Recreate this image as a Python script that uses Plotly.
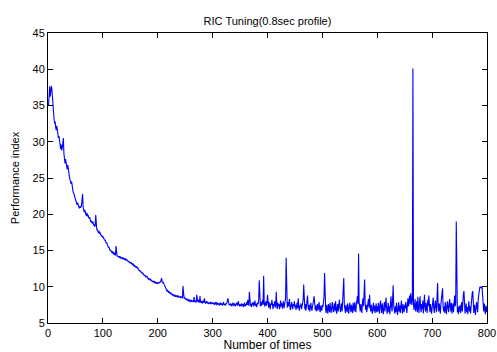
import plotly.graph_objects as go

title_text = "RIC Tuning(0.8sec profile)"
x_label = "Number of times"
y_label = "Performance index"
x_ticks = [0, 100, 200, 300, 400, 500, 600, 700, 800]
y_ticks = [5, 10, 15, 20, 25, 30, 35, 40, 45]

perf_index = [
    35.0, 37.4, 37.6, 36.2, 37.0, 37.7, 37.3, 36.0, 34.5, 33.4,
    33.2, 32.5, 32.8, 32.0, 31.6, 32.2, 31.4, 30.9, 30.5, 30.8,
    30.0, 29.4, 29.0, 29.6, 28.8, 29.2, 29.7, 30.5, 28.4, 27.3,
    27.0, 27.6, 26.9, 26.6, 26.2, 26.8, 26.0, 25.6, 25.2, 24.8,
    24.6, 24.2, 24.5, 23.8, 23.4, 23.0, 22.9, 22.6, 22.4, 22.1,
    21.8, 21.5, 21.3, 21.6, 21.2, 21.0, 20.8, 21.1, 20.9, 21.0,
    21.2, 22.0, 22.8, 21.0, 20.5, 20.3, 20.6, 20.1, 20.0, 19.8,
    20.2, 19.7, 19.9, 19.6, 19.4, 19.6, 19.2, 18.9, 19.1, 18.8,
    18.7, 19.0, 18.5, 18.6, 18.3, 18.4, 19.9, 18.0, 17.8, 17.9,
    17.6, 17.4, 17.7, 17.3, 17.5, 17.1, 17.2, 16.9, 17.0, 16.8,
    16.9, 16.6, 16.4, 16.5, 16.2, 16.0, 16.1, 15.8, 15.6, 15.4,
    15.5, 15.2, 15.0, 15.1, 14.9, 14.7, 14.9, 14.6, 14.5, 14.8,
    14.4, 14.6, 14.3, 15.6, 14.4, 14.2, 14.3, 14.1, 14.2, 14.0,
    14.2, 14.1, 13.9, 14.0, 14.1, 13.8, 13.9, 14.0, 13.7, 13.8,
    13.9, 13.6, 13.8, 13.7, 13.5, 13.6, 13.4, 13.5, 13.3, 13.4,
    13.2, 13.3, 13.1, 13.0, 13.2, 12.9, 12.8, 13.0, 12.7, 12.8,
    12.6, 12.8, 12.5, 12.6, 12.4, 12.2, 12.3, 12.1, 12.2, 11.9,
    12.0, 11.8, 11.9, 11.6, 11.7, 11.5, 11.6, 11.4, 11.3, 11.5,
    11.2, 11.3, 11.0, 11.2, 10.9, 11.0, 11.1, 10.8, 10.9, 10.7,
    10.8, 10.6, 10.8, 10.5, 10.7, 10.6, 10.4, 10.6, 10.5, 10.6,
    10.4, 10.6, 10.5, 10.7, 10.6, 10.9, 11.2, 10.7, 10.5, 10.6,
    10.4, 10.3, 10.2, 10.0, 9.8, 9.6, 9.4, 9.5, 9.3, 9.2,
    9.3, 9.1, 9.0, 9.2, 8.9, 9.0, 8.8, 8.9, 8.8, 8.7,
    8.9, 8.6, 8.8, 8.7, 8.6, 8.8, 8.5, 8.7, 8.6, 8.6,
    8.5, 8.7, 8.5, 8.6, 8.4, 10.1, 8.6, 8.4, 8.5, 8.3,
    8.3, 8.2, 8.4, 8.1, 8.2, 8.0, 8.3, 8.1, 7.9, 8.0,
    8.2, 7.9, 8.0, 8.1, 7.9, 8.6, 8.0, 7.9, 8.1, 7.8,
    8.9, 8.0, 7.9, 8.2, 7.8, 8.0, 8.7, 7.9, 7.8, 8.0,
    7.7, 7.9, 8.1, 7.8, 8.4, 7.9, 7.7, 7.8, 8.0, 7.7,
    7.9, 7.8, 7.6, 7.8, 7.7, 7.9, 7.6, 7.8, 7.7, 7.8,
    7.7, 7.6, 7.8, 7.5, 7.7, 7.9, 7.6, 7.5, 7.8, 7.6,
    7.7, 7.4, 7.6, 7.8, 7.5, 7.7, 7.6, 7.4, 7.7, 7.9,
    7.5, 7.6, 7.4, 7.7, 7.6, 7.8, 8.1, 8.4, 7.9, 7.5,
    7.6, 7.4, 7.7, 7.5, 7.3, 7.6, 7.8, 7.4, 7.5, 7.7,
    7.3, 7.6, 7.5, 7.8, 7.4, 7.6, 8.0, 7.5, 7.3, 7.6,
    7.5, 7.3, 7.7, 7.4, 7.6, 7.2, 7.5, 7.8, 7.3, 7.6,
    7.4, 7.9, 7.5, 8.2, 7.6, 7.4, 9.3, 7.7, 7.3, 7.6,
    7.2, 7.8, 7.5, 7.9, 7.3, 7.6, 8.1, 7.4, 7.7, 7.2,
    7.5, 7.8, 7.6, 8.3, 10.9, 7.5, 7.3, 7.9, 7.4, 7.7,
    8.2, 7.5, 11.5, 7.8, 7.3, 7.6, 8.0, 7.4, 7.7, 8.9,
    7.6, 7.1, 7.9, 7.4, 6.9, 7.7, 7.5, 8.2, 7.3, 6.9,
    7.6, 7.4, 8.0, 7.1, 7.5, 9.3, 7.4, 6.9, 7.8, 7.3,
    7.6, 6.9, 7.4, 8.1, 7.3, 7.7, 7.0, 7.5, 8.0, 7.0,
    7.4, 7.6, 8.4, 14.0, 7.5, 7.1, 7.9, 7.3, 7.6, 8.3,
    7.1, 6.8, 7.5, 7.9, 7.3, 6.9, 7.6, 7.4, 8.0, 7.1,
    7.5, 6.8, 7.3, 7.8, 7.0, 8.4, 7.3, 6.7, 7.4, 7.2,
    7.7, 6.9, 7.3, 7.9, 8.2, 10.3, 7.4, 6.9, 7.6, 6.7,
    7.3, 7.8, 8.8, 7.2, 6.8, 7.5, 6.6, 7.2, 7.8, 7.0,
    6.7, 7.3, 7.6, 8.1, 8.7, 7.4, 6.8, 7.4, 6.6, 7.1,
    7.6, 6.7, 7.2, 7.9, 6.9, 6.5, 7.4, 7.1, 6.7, 7.5,
    7.2, 7.9, 8.6, 11.9, 7.6, 6.8, 6.4, 7.5, 7.0, 6.3,
    7.6, 7.1, 6.5, 7.8, 7.2, 6.4, 7.0, 7.9, 7.3, 6.5,
    7.1, 7.7, 6.6, 8.0, 7.2, 6.3, 7.0, 7.6, 6.6, 7.8,
    8.2, 7.2, 6.5, 7.1, 7.7, 6.6, 7.9, 8.6, 11.2, 7.5,
    6.8, 6.4, 7.5, 7.1, 6.5, 7.7, 7.0, 6.3, 7.2, 7.8,
    7.0, 6.5, 7.5, 7.1, 6.4, 7.8, 7.2, 6.6, 7.9, 7.0,
    6.5, 7.6, 8.2, 8.7, 7.6, 14.6, 7.9, 7.0, 6.6, 7.6,
    7.1, 6.4, 7.8, 8.4, 7.3, 8.8, 11.0, 7.7, 6.8, 7.5,
    6.5, 7.2, 7.9, 8.3, 7.1, 8.9, 7.4, 6.6, 7.5, 7.0,
    6.3, 7.2, 7.8, 6.6, 7.4, 6.4, 7.1, 7.7, 6.5, 7.3,
    6.6, 7.8, 7.0, 6.3, 7.5, 8.1, 7.1, 6.4, 7.7, 7.0,
    6.2, 7.3, 7.9, 6.6, 7.4, 8.5, 7.1, 6.3, 7.0, 7.8,
    6.5, 7.3, 6.2, 8.0, 8.7, 7.3, 6.6, 8.3, 10.2, 7.4,
    6.8, 6.3, 7.3, 6.5, 7.8, 7.1, 6.1, 7.0, 7.9, 6.6,
    7.4, 6.4, 7.2, 8.1, 7.0, 6.3, 7.6, 7.2, 6.5, 7.5,
    7.0, 7.9, 7.2, 6.4, 7.6, 8.4, 7.3, 8.0, 8.8, 7.6,
    9.1, 8.4, 7.5, 8.1, 40.1, 7.6, 6.8, 7.5, 8.3, 6.6,
    7.4, 8.0, 6.5, 8.6, 7.2, 6.4, 7.7, 8.7, 7.1, 6.5,
    7.6, 6.9, 8.1, 6.3, 7.3, 8.9, 7.3, 6.6, 7.8, 7.1,
    6.4, 8.2, 7.3, 8.8, 7.0, 6.5, 7.6, 7.2, 6.3, 7.1,
    7.8, 8.5, 7.0, 6.4, 7.4, 8.1, 7.1, 6.5, 8.7, 10.5,
    7.2, 6.6, 7.7, 7.0, 6.3, 7.6, 8.1, 8.6, 9.8, 7.3,
    6.6, 7.3, 6.4, 7.9, 7.1, 6.2, 7.4, 8.0, 7.0, 6.5,
    7.6, 8.3, 7.2, 6.6, 7.8, 6.3, 7.1, 7.7, 6.5, 8.2,
    8.8, 7.3, 7.8, 19.0, 7.4, 6.5, 7.2, 6.2, 7.3, 6.6,
    7.5, 6.4, 7.0, 7.9, 6.6, 8.5, 9.0, 9.4, 7.2, 6.3,
    7.0, 7.7, 6.5, 7.2, 6.2, 7.5, 8.0, 6.6, 7.3, 6.3,
    7.8, 8.6, 9.1, 9.4, 7.1, 6.4, 7.5, 6.7, 6.1, 7.3,
    7.9, 7.0, 6.5, 8.3, 9.3, 9.8, 10.0, 9.9, 10.0, 9.8,
    10.0, 8.8, 7.3, 6.6, 7.7, 7.1, 6.2, 7.4, 6.5, 7.2,
]
trial_no = list(range(1, len(perf_index) + 1))

FONT = "Liberation Sans, Arial, sans-serif"

fig = go.Figure()
fig.add_trace(go.Scatter(
    x=trial_no, y=perf_index, mode="lines",
    line=dict(color="#0000ff", width=1.1),
    showlegend=False,
))

axis_common = dict(
    showline=True, linecolor="black", linewidth=1, mirror="ticks",
    ticks="inside", ticklen=5, tickcolor="black", tickwidth=1,
    showgrid=False, zeroline=False, automargin=False,
    tickfont=dict(family=FONT, size=11, color="black"),
)

fig.update_xaxes(range=[0, 800], tickvals=x_ticks, ticktext=[str(v) for v in x_ticks],
                 title=dict(text=x_label, font=dict(family=FONT, size=12, color="black"), standoff=2),
                 **axis_common)
fig.update_yaxes(range=[5, 45], tickvals=y_ticks, ticktext=[str(v) for v in y_ticks],
                 title=dict(text=y_label, font=dict(family=FONT, size=11, color="black"), standoff=10),
                 **axis_common)

fig.update_layout(
    width=497, height=352,
    margin=dict(l=48, r=10, t=33, b=29),
    paper_bgcolor="white", plot_bgcolor="white",
    title=dict(text=title_text, x=(48 + 487) / 2 / 497, xanchor="center",
               y=1 - 21 / 352, yanchor="middle", yref="container",
               font=dict(family=FONT, size=11, color="black")),
    font=dict(family=FONT, size=11, color="black"),
)

fig.write_html("out.html")
